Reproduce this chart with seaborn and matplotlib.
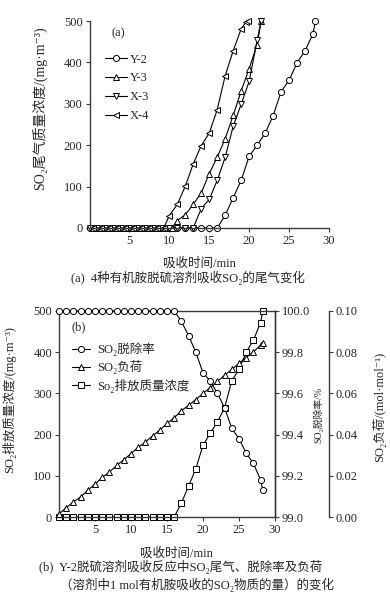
import numpy as np
import pandas as pd
import matplotlib
matplotlib.use("Agg")
import matplotlib.pyplot as plt
import seaborn as sns

# ---- panel (a): tail-gas SO2 concentration for 4 solvents ----
y2_time = [0, 1, 2, 3, 4, 5, 6, 7, 8, 9, 10, 11, 12, 13, 14, 15, 16,
           17, 18, 19, 20, 21, 22, 23, 24, 25, 26, 27, 28, 28.3]
y2_conc = [0] * 17 + [31, 73, 115, 173, 200, 229, 271, 329, 357, 399, 428, 469, 500]

y3_time = [0.5, 1.5, 2.5, 3.5, 4.5, 5.5, 6.5, 7.5, 8.5, 9.5, 10.3,
           11, 12, 13, 14, 15, 16, 17, 18, 19, 20, 21, 21.5]
y3_conc = [0] * 11 + [18, 32, 57, 85, 131, 171, 216, 272, 331, 385, 443, 500]

x3_time = [0, 1, 2, 3, 4, 5, 6, 7, 8, 9, 10, 11, 12, 13,
           14, 15, 16, 17, 18, 19, 20, 21, 21.5]
x3_conc = [0] * 14 + [47, 69, 115, 171, 246, 299, 354, 453, 500]

x4_time = [0.5, 1.5, 2.5, 3.5, 4.5, 5.5, 6.5, 7.5, 8.5, 9.3,
           10, 11, 12, 13, 14, 15, 16, 17, 18, 19, 19.6, 19.8]
x4_conc = [0] * 10 + [30, 57, 101, 155, 199, 229, 286, 368, 428, 481, 497, 500]

# ---- panel (b): Y-2 tail gas, removal rate and loading ----
b_time = list(range(0, 29)) + [28.3]
b_conc = [0] * 17 + [34, 75, 117, 174, 203, 231, 265, 331, 358, 400, 429, 472, 500]
b_rate = [100.0] * 17 + [99.95, 99.88, 99.80, 99.70, 99.66, 99.60, 99.53,
                         99.43, 99.38, 99.31, 99.26, 99.18, 99.13]
b_load = [0.0015, 0.0045, 0.0073, 0.0097, 0.0130, 0.0160, 0.0192, 0.0218,
          0.0250, 0.0278, 0.0308, 0.0338, 0.0364, 0.0394, 0.0422, 0.0454,
          0.0482, 0.0516, 0.0542, 0.0570, 0.0600, 0.0628, 0.0658, 0.0688,
          0.0716, 0.0746, 0.0774, 0.0802, 0.0834, 0.0846]

sns.set_style("ticks")
plt.rcParams["font.family"] = ["Liberation Serif", "Noto Sans CJK SC", "DejaVu Serif"]
plt.rcParams["axes.unicode_minus"] = False

FS = 9
line_kw = dict(color="black", lw=0.8, markersize=4.4, markerfacecolor="white",
               markeredgecolor="black", markeredgewidth=0.7, clip_on=False)
spine_col = "#3a3a3a"

fig = plt.figure(figsize=(3.9, 5.97), dpi=100)

# ================= panel (a) =================
ax = fig.add_axes([0.2295, 0.6181, 0.614, 0.3467])
series_a = [("Y-2", y2_time, y2_conc, "o"),
            ("Y-3", y3_time, y3_conc, "^"),
            ("X-3", x3_time, x3_conc, "v"),
            ("X-4", x4_time, x4_conc, "<")]
for name, t, c, m in series_a:
    df = pd.DataFrame({"t": t, "c": c})
    sns.lineplot(data=df, x="t", y="c", marker=m, label=name, ax=ax, **line_kw)

ax.set_xlim(0, 30)
ax.set_ylim(0, 500)
ax.set_xticks([5, 10, 15, 20, 25, 30])
ax.set_yticks([0, 100, 200, 300, 400, 500])
sns.despine(ax=ax)
for s in ["left", "bottom"]:
    ax.spines[s].set_color(spine_col)
    ax.spines[s].set_linewidth(1.0)
ax.tick_params(labelsize=FS, length=3, width=0.8, color=spine_col, pad=2)
ax.set_xlabel("吸收时间/min", fontsize=FS)
ax.set_ylabel("SO₂尾气质量浓度/(mg·m⁻³)", fontsize=10)
ax.xaxis.set_label_coords(0.461, -0.14)
ax.yaxis.set_label_coords(-0.173, 0.577)
ax.text(0.09, 0.94, "(a)", transform=ax.transAxes, fontsize=FS, va="center")
ax.legend(loc="upper left", bbox_to_anchor=(0.03, 0.885), frameon=False,
          fontsize=FS, handlelength=1.7, handletextpad=0.25, labelspacing=0.55,
          borderpad=0.2)

fig.text(0.482, 1 - 278 / 597, "(a)  4种有机胺脱硫溶剂吸收SO₂的尾气变化",
         ha="center", va="center", fontsize=9)

# ================= panel (b) =================
axb = fig.add_axes([0.1513, 0.1340, 0.5538, 0.3451])
ax2 = axb.twinx()
ax3 = axb.twinx()
ax3.spines["right"].set_position(("axes", 1.25))

df_b = pd.DataFrame({"t": b_time, "conc": b_conc, "rate": b_rate, "load": b_load})
sns.lineplot(data=df_b, x="t", y="rate", marker="o", label="SO₂脱除率",
             ax=ax2, legend=False, **line_kw)
sns.lineplot(data=df_b, x="t", y="load", marker="^", label="SO₂负荷",
             ax=ax3, legend=False, **line_kw)
sns.lineplot(data=df_b, x="t", y="conc", marker="s", label="So₂排放质量浓度",
             ax=axb, legend=False, **line_kw)

axb.set_xlim(0, 30)
axb.set_ylim(0, 500)
ax2.set_ylim(99.0, 100.0)
ax3.set_ylim(0, 0.1)
axb.set_xticks([5, 10, 15, 20, 25, 30])
axb.set_yticks([0, 100, 200, 300, 400, 500])
ax2.set_yticks([99.0, 99.2, 99.4, 99.6, 99.8, 100.0])
ax2.set_yticklabels(["99.0", "99.2", "99.4", "99.6", "99.8", "100.0"])
ax3.set_yticks([0, 0.02, 0.04, 0.06, 0.08, 0.10])
ax3.set_yticklabels(["0.00", "0.02", "0.04", "0.06", "0.08", "0.10"])

for a in (axb, ax2, ax3):
    for s in a.spines.values():
        s.set_color(spine_col)
        s.set_linewidth(1.0)
    a.tick_params(labelsize=FS, length=3, width=0.8, color=spine_col, pad=2)
for s in ["top", "left", "bottom"]:
    ax3.spines[s].set_visible(False)
    ax2.spines[s].set_visible(False)

axb.set_xlabel("吸收时间/min", fontsize=FS)
axb.set_ylabel("SO₂排放质量浓度/(mg·m⁻³)", fontsize=FS)
axb.xaxis.set_label_coords(0.546, -0.146)
axb.yaxis.set_label_coords(-0.199, 0.568)
ax2.set_ylabel("SO₂脱除率/%", fontsize=7)
ax2.yaxis.set_label_coords(1.176, 0.495)
ax3.set_ylabel("SO₂负荷/(mol·mol⁻¹)", fontsize=FS)
ax3.yaxis.set_label_coords(1.449, 0.534)
ax2.set_xlabel("")
ax3.set_xlabel("")

ax3.text(0.06, 0.92, "(b)", transform=axb.transAxes, fontsize=FS, va="center")
handles = ax2.lines[:1] + ax3.lines[:1] + axb.lines[:1]
ax3.legend(handles, ["SO₂脱除率", "SO₂负荷", "So₂排放质量浓度"],
           loc="upper left", bbox_to_anchor=(0.02, 0.89), frameon=False,
           fontsize=FS, handlelength=1.4, handletextpad=0.6, labelspacing=0.35,
           borderpad=0.2)

fig.text(181 / 390, 1 - 567 / 597, "(b)  Y-2脱硫溶剂吸收反应中SO₂尾气、脱除率及负荷",
         ha="center", va="center", fontsize=9)
fig.text(197 / 390, 1 - 585 / 597, "（溶剂中1 mol有机胺吸收的SO₂物质的量）的变化",
         ha="center", va="center", fontsize=9)

fig.savefig("out.png", dpi=100)
